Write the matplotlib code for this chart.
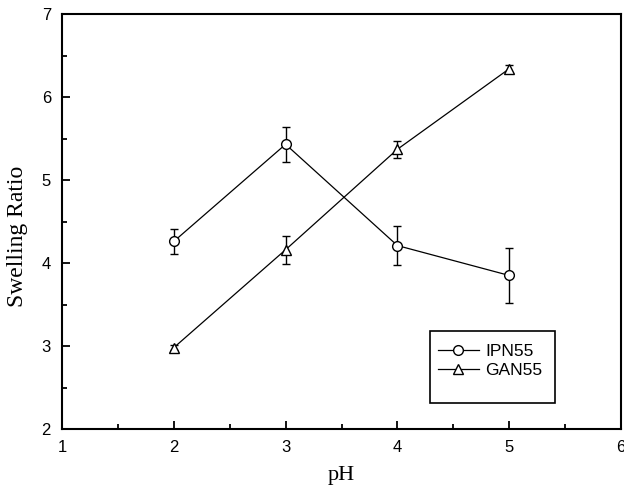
import numpy as np
import matplotlib
matplotlib.use("Agg")
import matplotlib.pyplot as plt
from matplotlib.ticker import MultipleLocator
from matplotlib.patches import Rectangle

# Data
ph = [2, 3, 4, 5]
ipn55 = [4.26, 5.43, 4.21, 3.85]
ipn55_err = [0.15, 0.21, 0.24, 0.33]
gan55 = [2.98, 4.16, 5.37, 6.34]
gan55_err = [0.03, 0.17, 0.10, 0.05]

fig = plt.figure(figsize=(6.24, 4.87), dpi=100)
ax = fig.add_axes([62 / 624, 58 / 487, 559 / 624, 415 / 487])

style = dict(color='black', lw=0.9, ms=7, mfc='white', mec='black', mew=1.0,
             ecolor='black', elinewidth=1.0, capsize=3, capthick=1.0)
e1 = ax.errorbar(ph, ipn55, yerr=ipn55_err, marker='o', label='IPN55', **style)
e2 = ax.errorbar(ph, gan55, yerr=gan55_err, marker='^', label='GAN55', **style)

ax.set_xlim(1, 6)
ax.set_ylim(2, 7)
ax.xaxis.set_major_locator(MultipleLocator(1))
ax.xaxis.set_minor_locator(MultipleLocator(0.5))
ax.yaxis.set_major_locator(MultipleLocator(1))
ax.yaxis.set_minor_locator(MultipleLocator(0.5))
ax.tick_params(which='both', direction='in', top=False, right=False, width=1.3)
ax.tick_params(which='major', length=6, pad=8)
ax.tick_params(which='minor', length=3.8)
for lab in ax.get_xticklabels() + ax.get_yticklabels():
    lab.set_family('Liberation Sans')
    lab.set_fontsize(12)
for s in ax.spines.values():
    s.set_linewidth(1.5)

ax.set_xlabel('pH', family='Liberation Serif', fontsize=16)
ax.xaxis.set_label_coords(0.5, -0.088)
ax.set_ylabel('Swelling Ratio', family='Liberation Serif', fontsize=17)
ax.yaxis.set_label_coords(-0.061, 0.465)

# legend box: entries at the top, empty space below
ax.add_patch(Rectangle((0.658, 0.063), 0.2236, 0.1735, transform=ax.transAxes,
                       fill=False, edgecolor='black', lw=1.2, zorder=5))
leg = ax.legend([e1[0], e2[0]], ['IPN55', 'GAN55'], loc='upper left',
                bbox_to_anchor=(0.672, 0.204), frameon=False, borderaxespad=0,
                borderpad=0, handlelength=2.4, handletextpad=0.35,
                labelspacing=0.2, prop={'family': 'Liberation Sans', 'size': 12.5})

fig.savefig('out.png', dpi=100)
